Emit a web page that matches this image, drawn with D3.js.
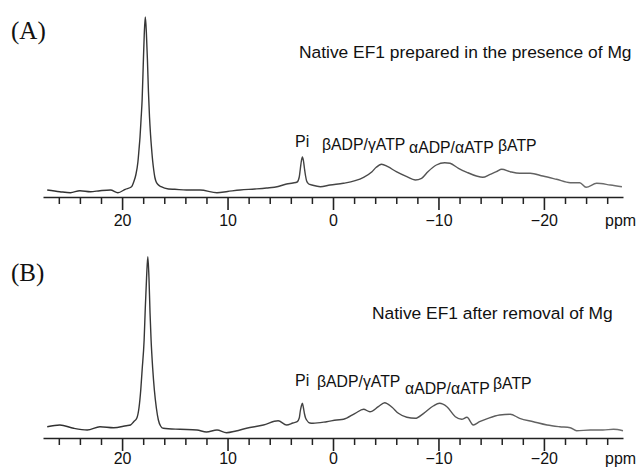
<!DOCTYPE html>
<html><head><meta charset="utf-8">
<script src="https://cdn.jsdelivr.net/npm/d3@7"></script>
<style>
html,body{margin:0;padding:0;background:#fff;}
svg{display:block;}
text{font-family:"Liberation Sans",Arial,sans-serif;fill:#111;}
</style></head>
<body>
<svg id="chart" width="640" height="468"></svg>
<script>
// ---------- data ----------
const majorTicks = [20, 10, 0, -10, -20];
const minorTicks = [26, 24, 22, 18, 16, 14, 12, 8, 6, 4, 2, -2, -4, -6, -8, -12, -14, -16, -18, -22, -24, -26];
const axisUnit = "ppm";

const panelLetters = ["(A)", "(B)"];
const panelTitles = ["Native EF1 prepared in the presence of Mg", "Native EF1 after removal of Mg"];
const peakLabels = ["Pi", "βADP/γATP", "αADP/αATP", "βATP"];

// Spectrum A: chemical shift (ppm) and intensity (a.u.)
const ppmA = [27.1, 25.9, 24.9, 24.0, 23.0, 22.1, 21.1, 20.4, 19.7, 19.1, 18.9, 18.7, 18.5, 18.4, 18.3, 18.2, 18.1, 18.0, 17.9, 17.8, 17.7, 17.6, 17.5, 17.4, 17.3, 17.2, 17.1, 17.0, 16.9, 16.8, 16.6, 16.3, 15.6, 15.0, 13.9, 12.6, 11.0, 10.0, 8.8, 7.4, 6.3, 5.2, 4.4, 3.8, 3.4, 3.2, 3.1, 3.0, 2.9, 2.8, 2.7, 2.6, 2.5, 2.3, 2.0, 1.2, 0.28, -0.98, -2.1, -2.9, -3.7, -4.1, -4.6, -5.2, -6.0, -7.0, -7.8, -8.4, -9.0, -9.8, -10.6, -11.1, -11.9, -12.7, -13.6, -14.2, -14.9, -15.5, -16.0, -16.8, -17.7, -18.7, -19.9, -21.2, -22.5, -23.4, -24.0, -25.0, -26.3, -27.4];
const intA = [7, 5.3, 4.3, 6.3, 5.3, 6.3, 7, 4.3, 7.7, 10.3, 15, 22, 35, 47, 60, 78, 97, 130, 162, 180, 165, 138, 105, 80, 62, 48, 36, 27, 20, 16, 12.5, 10.3, 8, 7.7, 7, 7, 4.3, 5.5, 7, 8, 9, 10.5, 13, 14, 15, 20, 28, 36, 40, 36, 28, 21, 16, 13, 12, 10.3, 12, 13.7, 16.3, 19.7, 25.3, 29.7, 32.7, 30.3, 25.3, 20.3, 17, 18.7, 25.3, 32, 34.3, 33.7, 28.7, 24.7, 21, 19.7, 22.7, 25.3, 27.7, 25.3, 23.7, 23.7, 21, 17.7, 14.3, 14.3, 9.7, 13.7, 12, 10.3];

// Spectrum B
const ppmB = [27.1, 25.9, 24.6, 23.3, 22.1, 20.8, 19.6, 19.2, 18.9, 18.6, 18.4, 18.23, 18.1, 17.91, 17.8, 17.68, 17.56, 17.45, 17.35, 17.25, 17.1, 16.94, 16.75, 16.56, 16.35, 16.1, 14.5, 12.9, 12.0, 11.0, 10.1, 9.2, 8.2, 6.6, 5.2, 4.4, 3.8, 3.4, 3.2, 3.1, 3.0, 2.9, 2.8, 2.7, 2.6, 2.5, 2.2, 1.9, 0.6, -0.35, -1.0, -2.1, -2.9, -3.5, -4.3, -4.9, -5.6, -6.2, -7.0, -7.8, -8.6, -9.5, -10.1, -10.8, -11.6, -12.2, -12.7, -13.3, -13.9, -14.7, -15.8, -16.8, -17.7, -19.0, -20.3, -21.5, -22.5, -23.1, -24.4, -25.6, -26.6, -27.5];
const intB = [11.3, 13, 9.7, 8, 11.3, 10.3, 12.3, 13, 16.3, 20, 30, 48, 68, 98, 130, 160, 181.3, 160, 125, 98, 70, 48, 30, 18, 12, 9.7, 8.7, 8, 6, 8, 5.3, 7, 9.7, 13, 17.3, 13, 15, 16.3, 20, 27, 32, 34.7, 30, 24, 20, 18, 15, 14.7, 16.3, 18, 18.7, 24.7, 28.7, 26.3, 31.3, 35.3, 30.7, 24.7, 20.7, 19.7, 24.7, 32, 34.7, 31.3, 21.3, 18.7, 20.7, 13, 16.3, 19.7, 23, 23.7, 19.7, 16.3, 13, 11.3, 10.3, 7.3, 8, 8, 8.7, 7.3];

// ---------- layout ----------
const svg = d3.select("#chart");
const x = d3.scaleLinear().domain([27.5, -27.5]).range([43, 623]);

const defs = svg.append("defs");
const grad = defs.append("linearGradient").attr("id", "traceGrad")
  .attr("gradientUnits", "userSpaceOnUse")
  .attr("x1", x.range()[0]).attr("x2", x.range()[1]).attr("y1", 0).attr("y2", 0);
grad.append("stop").attr("offset", "0%").attr("stop-color", "#2e2e2e");
grad.append("stop").attr("offset", "50%").attr("stop-color", "#454545");
grad.append("stop").attr("offset", "100%").attr("stop-color", "#6e6e6e");

const panels = [
  {ppm: ppmA, val: intA, axisY: 197, labelBase: 226, letterY: 39, titleX: 299, titleY: 58,
   labelPos: [[295, 146.7], [322, 150], [409, 152.7], [498, 150.5]]},
  {ppm: ppmB, val: intB, axisY: 438, labelBase: 464, letterY: 281, titleX: 372, titleY: 318.5,
   labelPos: [[295, 385.7], [317, 386.7], [405, 394], [493, 389]]}
];

panels.forEach((p, i) => {
  const y = d3.scaleLinear().domain([0, 180]).range([p.axisY, p.axisY - 180]);
  const g = svg.append("g");

  // spectrum trace
  const pts = p.ppm.map((d, k) => [d, p.val[k]]);
  g.append("path")
    .datum(pts)
    .attr("fill", "none")
    .attr("stroke", "url(#traceGrad)")
    .attr("stroke-width", 1.4)
    .attr("stroke-linejoin", "round")
    .attr("d", d3.line().x(d => x(d[0])).y(d => y(d[1])).curve(d3.curveMonotoneX));

  // minor ticks
  const minorAxis = d3.axisBottom(x).tickValues(minorTicks).tickSize(7).tickSizeOuter(0).tickFormat("");
  const gm = g.append("g").attr("transform", `translate(0,${p.axisY})`).call(minorAxis);
  gm.select(".domain").attr("stroke", "#222").attr("stroke-width", 1.6);
  gm.selectAll(".tick line").attr("stroke", "#222").attr("stroke-width", 1.5);

  // major ticks with labels
  const majorAxis = d3.axisBottom(x).tickValues(majorTicks).tickSize(13).tickSizeOuter(0);
  const gM = g.append("g").attr("transform", `translate(0,${p.axisY})`).call(majorAxis);
  gM.select(".domain").remove();
  gM.selectAll(".tick line").attr("stroke", "#222").attr("stroke-width", 1.6);
  gM.selectAll(".tick text")
    .attr("font-family", "Liberation Sans, Arial, sans-serif")
    .attr("font-size", 16).attr("fill", "#111")
    .attr("y", p.labelBase - p.axisY).attr("dy", null);

  g.append("text").attr("x", 605).attr("y", p.labelBase)
    .attr("font-size", 16).text(axisUnit);

  // panel letter
  g.append("text").attr("x", 11).attr("y", p.letterY)
    .style("font-family", "'Liberation Serif','Times New Roman',serif")
    .attr("font-size", 25).text(panelLetters[i]);

  // title
  g.append("text").attr("x", p.titleX).attr("y", p.titleY)
    .attr("font-size", 17.4).text(panelTitles[i]);

  // peak labels
  peakLabels.forEach((t, k) => {
    g.append("text").attr("x", p.labelPos[k][0]).attr("y", p.labelPos[k][1])
      .attr("font-size", k === 0 ? 16 : 15.8).text(t);
  });
});
</script>
</body></html>
